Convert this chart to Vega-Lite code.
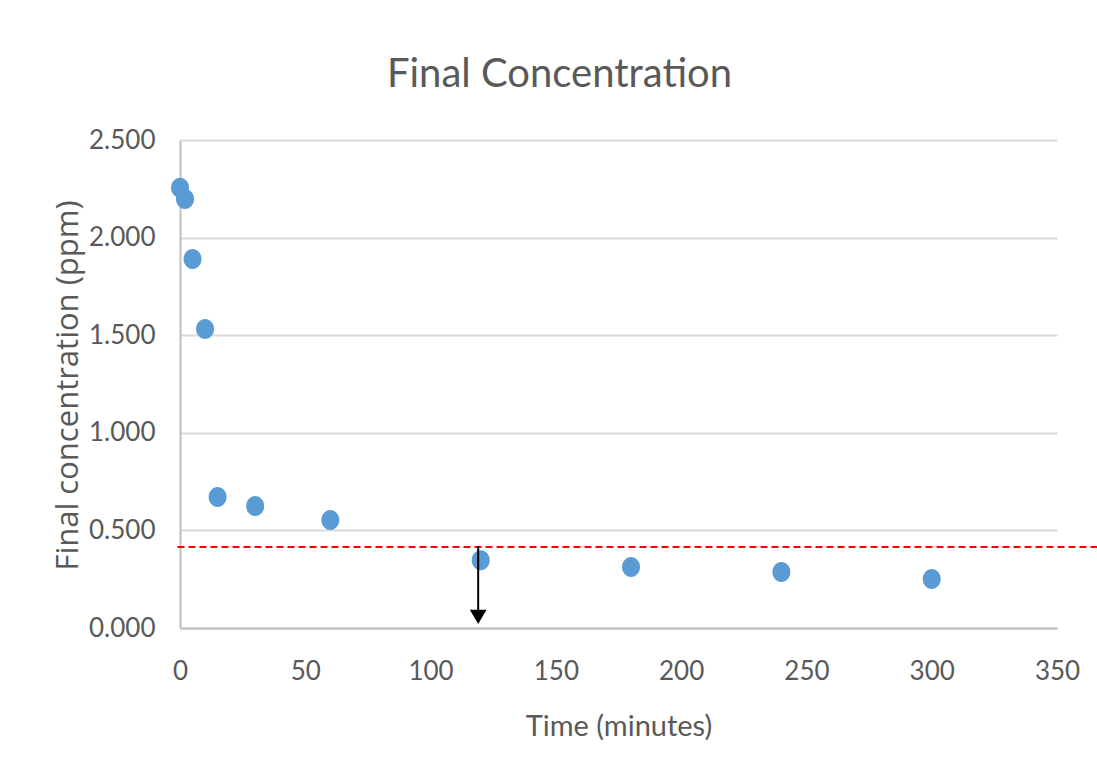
{
  "$schema": "https://vega.github.io/schema/vega-lite/v6.json",
  "width": 877,
  "height": 488,
  "autosize": {"type": "none"},
  "padding": {"left": 180, "top": 140, "right": 40, "bottom": 156},
  "background": "white",
  "config": {"view": {"stroke": null}, "font": "Lato"},
  "title": {
    "text": "Final Concentration",
    "font": "Lato",
    "fontSize": 40,
    "fontWeight": "normal",
    "color": "#595959",
    "anchor": "middle",
    "dx": -59,
    "offset": 0,
    "baseline": "alphabetic"
  },
  "encoding": {
    "x": {
      "field": "x",
      "type": "quantitative",
      "scale": {"domain": [0, 350], "nice": false, "zero": false},
      "axis": {
        "title": "Time (minutes)",
        "values": [0, 50, 100, 150, 200, 250, 300, 350],
        "grid": false,
        "ticks": false,
        "domainColor": "#bfbfbf",
        "domainWidth": 2,
        "labelFont": "Lato",
        "labelFontSize": 26,
        "labelColor": "#595959",
        "labelPadding": 30,
        "labelFlush": false,
        "labelOverlap": false,
        "titleFont": "Lato",
        "titleFontSize": 29,
        "titleFontWeight": "normal",
        "titleColor": "#595959",
        "titleBaseline": "alphabetic",
        "titleY": 107
      }
    },
    "y": {
      "field": "y",
      "type": "quantitative",
      "scale": {"domain": [0, 2.5], "nice": false},
      "axis": {
        "title": "Final concentration (ppm)",
        "values": [0, 0.5, 1, 1.5, 2, 2.5],
        "format": ".3f",
        "grid": true,
        "gridColor": "#d9d9d9",
        "gridWidth": 2,
        "ticks": false,
        "domainColor": "#bfbfbf",
        "domainWidth": 2,
        "labelFont": "Lato",
        "labelFontSize": 26,
        "labelColor": "#595959",
        "labelPadding": 25,
        "labelOverlap": false,
        "titleFont": "Open Sans",
        "titleFontSize": 31,
        "titleFontWeight": "normal",
        "titleColor": "#595959",
        "titleBaseline": "alphabetic",
        "titleAngle": 270,
        "titleX": -103,
        "titleY": 245
      }
    }
  },
  "layer": [
    {
      "data": {"values": [
        {"x": 0, "y": 2.255},
        {"x": 2, "y": 2.198},
        {"x": 5, "y": 1.89},
        {"x": 10, "y": 1.532},
        {"x": 15, "y": 0.671},
        {"x": 30, "y": 0.625},
        {"x": 60, "y": 0.553},
        {"x": 120, "y": 0.347},
        {"x": 180, "y": 0.312},
        {"x": 240, "y": 0.287},
        {"x": 300, "y": 0.251}
      ]},
      "mark": {
        "type": "point",
        "filled": true,
        "opacity": 1,
        "color": "#5b9bd5",
        "shape": "M-0.9,0A0.9,1,0,1,0,0.9,0A0.9,1,0,1,0,-0.9,0Z",
        "size": 400
      }
    },
    {
      "data": {"values": [{"x": -1, "x2": 366, "y": 0.415}]},
      "mark": {"type": "rule", "color": "#ff0000", "strokeWidth": 2, "strokeDash": [7, 4]},
      "encoding": {"x2": {"field": "x2"}}
    },
    {
      "data": {"values": [{"x": 119, "y": 0.42, "y2": 0.07}]},
      "mark": {"type": "rule", "color": "#000000", "strokeWidth": 2},
      "encoding": {"y2": {"field": "y2"}}
    },
    {
      "data": {"values": [{"x": 119, "y": 0.057}]},
      "mark": {"type": "point", "shape": "triangle-down", "filled": true, "opacity": 1, "color": "#000000", "size": 280}
    }
  ]
}
